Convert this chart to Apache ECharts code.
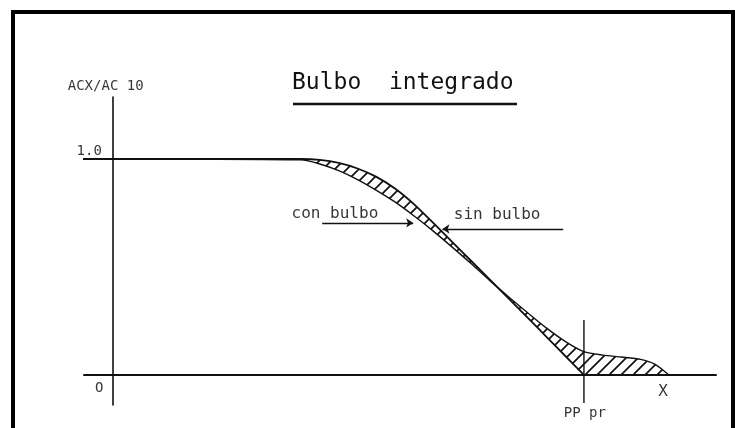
<!DOCTYPE html>
<html>
<head>
<meta charset="utf-8">
<title>Bulbo integrado</title>
<script src="https://cdn.jsdelivr.net/npm/echarts@6/dist/echarts.min.js"></script>
<style>
  html, body { margin: 0; padding: 0; background: #fff; }
  #chart { width: 735px; height: 428px; }
</style>
</head>
<body>
<div id="chart"></div>
<script>
// abscisa comun (PP pr = 10)
const xs = [-0.75, 0, 4.0, 4.4, 4.8, 5.2, 5.6, 6.0, 6.4, 6.8, 7.2, 7.6, 8.0, 8.4, 8.8, 9.2, 9.6, 10.0, 10.4, 10.8, 11.2, 11.5, 11.8]
// ACX/AC10 sin bulbo (acaba en PP pr)
const sinBulbo = [1, 1, 1.0, 0.996, 0.982, 0.956, 0.917, 0.862, 0.79, 0.705, 0.617, 0.53, 0.443, 0.355, 0.267, 0.178, 0.089, 0]
// ACX/AC10 con bulbo
const conBulbo = [1, 1, 0.996, 0.977, 0.946, 0.905, 0.855, 0.8, 0.736, 0.667, 0.593, 0.517, 0.438, 0.362, 0.289, 0.218, 0.156, 0.108, 0.092, 0.083, 0.072, 0.05, 0]
// vertical en PP pr
const ppX = 10
const ppLine = [0.255, -0.13]
// flechas de las leyendas [desde, hasta]
const conArrow = [[4.45, 0.704], [6.38, 0.704]]
const sinArrow = [[9.56, 0.676], [7.0, 0.676]]
// textos sueltos
const notes = [
  { text: 'ACX/AC 10', at: [-0.14, 1.338], size: 14 },
  { text: '1.0', at: [-0.49, 1.037], size: 14 },
  { text: 'O', at: [-0.28, -0.06], size: 14 },
  { text: 'con bulbo', at: [4.72, 0.745], size: 16 },
  { text: 'sin bulbo', at: [8.16, 0.741], size: 16 },
  { text: 'PP pr', at: [10.02, -0.176], size: 14 },
  { text: 'X', at: [11.68, -0.079], size: 16 }
]

const ink = '#111'
const font = 'DejaVu Sans Mono'

// rayado "/" para la zona entre curvas
function hatchPattern (step, width) {
  const c = document.createElement('canvas')
  c.width = c.height = step
  const g = c.getContext('2d')
  g.strokeStyle = ink
  g.lineWidth = width
  g.beginPath()
  g.moveTo(-1, step + 1); g.lineTo(step + 1, -1)
  g.moveTo(-step / 2 - 1, step / 2 + 1); g.lineTo(step / 2 + 1, -step / 2 - 1)
  g.moveTo(step / 2 - 1, step * 1.5 + 1); g.lineTo(step * 1.5 + 1, step / 2 - 1)
  g.stroke()
  return c
}
const hatch = hatchPattern(12, 1.7)

const sinAt = i => (i < sinBulbo.length ? sinBulbo[i] : 0)
const upper = xs.map((x, i) => [x, Math.max(sinAt(i), conBulbo[i])]).slice(1)
const lower = xs.map((x, i) => [x, Math.min(sinAt(i), conBulbo[i])]).slice(1).reverse()

const chart = echarts.init(document.getElementById('chart'))
chart.setOption({
  backgroundColor: '#fff',
  animation: false,
  title: {
    text: 'Bulbo  integrado',
    left: 292,
    top: 72,
    padding: 0,
    textStyle: { fontFamily: font, fontSize: 23, fontWeight: 'normal', color: ink }
  },
  graphic: [
    { type: 'rect', shape: { x: 13, y: 12, width: 720, height: 440 }, style: { fill: null, stroke: '#000', lineWidth: 4 } },
    { type: 'line', shape: { x1: 293, y1: 104, x2: 517, y2: 104 }, style: { stroke: ink, lineWidth: 2.6 } }
  ],
  grid: { left: 84, right: 19, top: 97, bottom: 23 },
  xAxis: {
    type: 'value',
    min: -0.6,
    max: 12.8,
    axisLine: { show: true, onZero: true, lineStyle: { color: ink, width: 2 } },
    axisTick: { show: false },
    axisLabel: { show: false },
    splitLine: { show: false }
  },
  yAxis: {
    type: 'value',
    min: -0.139,
    max: 1.287,
    axisLine: { show: true, onZero: true, lineStyle: { color: ink, width: 1.6 } },
    axisTick: { show: false },
    axisLabel: { show: false },
    splitLine: { show: false }
  },
  series: [
    {
      // zona rayada entre las dos curvas
      type: 'custom',
      silent: true,
      data: [[0, 0]],
      renderItem: (params, api) => ({
        type: 'polygon',
        shape: { points: upper.concat(lower).map(p => api.coord(p)), smooth: 0.2 },
        style: { fill: { image: hatch, repeat: 'repeat' }, stroke: null }
      })
    },
    {
      name: 'sin bulbo',
      type: 'line',
      data: sinBulbo.map((v, i) => [xs[i], v]),
      symbol: 'none',
      smooth: 0.25,
      clip: false,
      lineStyle: { color: ink, width: 1.8 }
    },
    {
      name: 'con bulbo',
      type: 'line',
      data: conBulbo.map((v, i) => [xs[i], v]),
      symbol: 'none',
      smooth: 0.25,
      clip: false,
      lineStyle: { color: ink, width: 1.4 }
    },
    {
      type: 'line',
      data: ppLine.map(v => [ppX, v]),
      symbol: 'none',
      clip: false,
      lineStyle: { color: ink, width: 1.4 }
    },
    {
      type: 'lines',
      coordinateSystem: 'cartesian2d',
      symbol: ['none', 'arrow'],
      symbolSize: 7,
      lineStyle: { color: ink, width: 1.3, opacity: 1, curveness: 0 },
      data: [{ coords: conArrow }, { coords: sinArrow }]
    },
    {
      type: 'scatter',
      clip: false,
      symbolSize: 0,
      silent: true,
      data: notes.map(n => ({
        value: n.at,
        name: n.text,
        label: { fontSize: n.size }
      })),
      label: {
        show: true,
        position: 'inside',
        formatter: '{b}',
        fontFamily: font,
        color: '#000'
      }
    }
  ]
})
</script>
</body>
</html>
